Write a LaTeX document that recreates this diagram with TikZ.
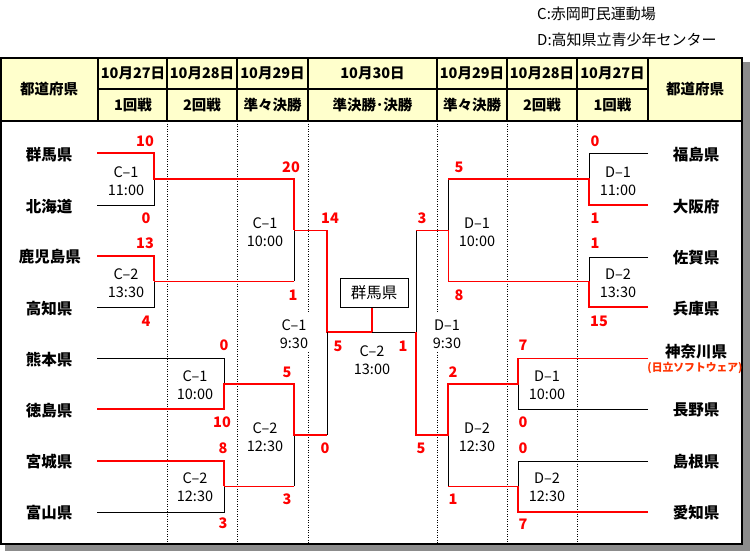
\documentclass[tikz,border=0pt]{standalone}
\usepackage{fontspec}
\setmainfont{Noto Sans CJK JP}
\definecolor{hdr}{HTML}{FFFFCC}
\definecolor{shadowgray}{HTML}{8C8C8C}
\definecolor{orangered}{HTML}{FF3300}
\begin{document}
\begin{tikzpicture}[x=1pt,y=-1pt,
  win/.style={red,line width=2.4pt},
  rl/.style={red,line width=1pt},
  bl/.style={black,line width=1pt},
  dotline/.style={black,line width=0.8pt,dash pattern=on 1pt off 1.5pt},
  frame/.style={black,line width=2pt},
  team/.style={font=\fontsize{15.5}{16}\selectfont\bfseries,inner sep=0pt},
  sc/.style={red,font=\fontsize{14.5}{15}\selectfont\bfseries,inner sep=0pt},
  mt/.style={font=\fontsize{14.5}{18}\selectfont,align=center,inner sep=0pt},
  hd/.style={font=\fontsize{14.5}{15}\selectfont\bfseries,inner sep=0pt},
  lg/.style={font=\fontsize{15}{15}\selectfont,anchor=west,inner sep=0pt},
]
\useasboundingbox (0,0) rectangle (750,551);
\fill[white] (0,0) rectangle (750,551);
% shadow
\fill[shadowgray] (743,62) rectangle (750,551);
\fill[shadowgray] (5,545) rectangle (750,551);
% header background
\fill[hdr] (1,58) rectangle (742,121);
% dotted column lines
\foreach \x in {167,237,507,577} \draw[dotline] (\x,121) -- (\x,543);
\foreach \x in {308,437} {\draw[dotline] (\x,121) -- (\x,313); \draw[dotline] (\x,352) -- (\x,543);}
% header grid
\draw[frame] (1,58) rectangle (742,544);
\draw[frame] (1,121) -- (742,121);
\draw[frame] (98,89) -- (648,89);
\foreach \x in {98,167,237,308,437,507,577,648} \draw[frame] (\x,58) -- (\x,121);

% legend
\node[lg] (lgc) at (537,14) {C:赤岡町民運動場};
\node[lg] (lgd) at (537,40) {D:高知県立青少年センター};

% headers
\node[hd] (hl) at (49,89) {都道府県};
\node[hd] (hr) at (695,89) {都道府県};
\node[hd] (d1) at (133,73) {10月27日};
\node[hd] (d2) at (202,73) {10月28日};
\node[hd] (d3) at (272.5,73) {10月29日};
\node[hd] (d4) at (372.5,73) {10月30日};
\node[hd] (d5) at (472,73) {10月29日};
\node[hd] (d6) at (542,73) {10月28日};
\node[hd] (d7) at (612.5,73) {10月27日};
\node[hd] (r1) at (133,105) {1回戦};
\node[hd] (r2) at (202,105) {2回戦};
\node[hd] (r3) at (272.5,105) {準々決勝};
\node[hd] (r4) at (372.5,105) {準決勝･決勝};
\node[hd] (r5) at (472,105) {準々決勝};
\node[hd] (r6) at (542,105) {2回戦};
\node[hd] (r7) at (612.5,105) {1回戦};

% left teams
\node[team] (L1) at (49,155) {群馬県};
\node[team] (L2) at (49,207) {北海道};
\node[team] (L3) at (50,257) {鹿児島県};
\node[team] (L4) at (49,309) {高知県};
\node[team] (L5) at (49,360) {熊本県};
\node[team] (L6) at (49,411) {徳島県};
\node[team] (L7) at (49,462) {宮城県};
\node[team] (L8) at (49,513) {富山県};
% right teams
\node[team] (R1) at (696,155) {福島県};
\node[team] (R2) at (696,207) {大阪府};
\node[team] (R3) at (696,258) {佐賀県};
\node[team] (R4) at (696,309) {兵庫県};
\node[team] (R5) at (696,352) {神奈川県};
\node[inner sep=0pt,text=orangered,font=\fontsize{10.8}{11}\selectfont\bfseries] (R5b) at (695,368) {(日立ソフトウェア)};
\node[team] (R6) at (696,410) {長野県};
\node[team] (R7) at (696,462) {島根県};
\node[team] (R8) at (696,513) {愛知県};

% ---------- left bracket lines ----------
\draw[bl] (97,205) -- (154,205) -- (154,179);
\draw[bl] (97,307) -- (154,307) -- (154,281);
\draw[bl] (294,281) -- (294,230);
\draw[rl] (154,281) -- (294,281);
\draw[win] (97,256) -- (154,256) -- (154,281);
\draw[rl] (294,230) -- (327,230);
\draw[win,line join=miter] (97,153) -- (154,153) -- (154,179) -- (294,179) -- (294,230);
\draw[win,line join=miter] (327,230) -- (327,332) -- (372,332) -- (372,307);

\draw[bl] (97,358) -- (224,358) -- (224,384);
\draw[bl] (97,512) -- (224,512) -- (224,486);
\draw[bl] (294,486) -- (294,435);
\draw[bl] (327,435) -- (327,332);
\draw[rl] (224,486) -- (294,486);
\draw[win,line join=miter] (97,461) -- (224,461) -- (224,486);
\draw[win,line join=miter] (97,409) -- (224,409) -- (224,384) -- (294,384) -- (294,435) -- (327,435);

% ---------- final ----------
\draw[bl] (372,332) -- (416,332) -- (416,230);
\node[draw,line width=1pt,fill=white,minimum width=68pt,minimum height=29pt,inner sep=0pt,font=\fontsize{15.5}{16}\selectfont] (champ) at (374,292.5) {群馬県};

% ---------- right bracket lines ----------
\draw[bl] (648,153) -- (589,153) -- (589,179);
\draw[bl] (648,257) -- (589,257) -- (589,281);
\draw[bl] (448,179) -- (448,230);
\draw[rl] (416,230) -- (448,230) -- (448,281) -- (589,281);
\draw[win,line join=miter] (648,205) -- (589,205) -- (589,179) -- (448,179);
\draw[win,line join=miter] (648,307) -- (589,307) -- (589,281);

\draw[bl] (648,409) -- (518,409) -- (518,384);
\draw[bl] (648,461) -- (518,461) -- (518,486);
\draw[bl] (448,435) -- (448,486);
\draw[rl] (648,358) -- (518,358);
\draw[rl] (448,486) -- (518,486);
\draw[win,line join=miter] (518,358) -- (518,384) -- (448,384) -- (448,435) -- (416,435) -- (416,332);
\draw[win,line join=miter] (648,512) -- (518,512) -- (518,486);

% ---------- match labels ----------
\node[mt] (m1) at (126,181) {C–1\\11:00};
\node[mt] (m2) at (126,283) {C–2\\13:30};
\node[mt] (m3) at (265,232) {C–1\\10:00};
\node[mt] (m4) at (294,334) {C–1\\9:30};
\node[mt] (m5) at (195,385) {C–1\\10:00};
\node[mt] (m6) at (195,487) {C–2\\12:30};
\node[mt] (m7) at (265,437) {C–2\\12:30};
\node[mt] (m8) at (372,360) {C–2\\13:00};
\node[mt] (n1) at (618,181) {D–1\\11:00};
\node[mt] (n2) at (618,283) {D–2\\13:30};
\node[mt] (n3) at (477,232) {D–1\\10:00};
\node[mt] (n4) at (447,334) {D–1\\9:30};
\node[mt] (n5) at (547,385) {D–1\\10:00};
\node[mt] (n6) at (547,487) {D–2\\12:30};
\node[mt] (n7) at (477,437) {D–2\\12:30};

% ---------- scores ----------
\node[sc] (s1) at (145,141) {10};
\node[sc] (s2) at (146,218) {0};
\node[sc] (s3) at (145,243) {13};
\node[sc] (s4) at (146,321) {4};
\node[sc] (s5) at (291,167) {20};
\node[sc] (s6) at (293,295) {1};
\node[sc] (s7) at (330,218) {14};
\node[sc] (s8) at (338,346) {5};
\node[sc] (s9) at (224,345) {0};
\node[sc] (s10) at (222,422) {10};
\node[sc] (s11) at (223,448) {8};
\node[sc] (s12) at (223,523) {3};
\node[sc] (s13) at (287,372) {5};
\node[sc] (s14) at (287,499) {3};
\node[sc] (s15) at (325,448) {0};
\node[sc] (t1) at (595,141) {0};
\node[sc] (t2) at (595,218) {1};
\node[sc] (t3) at (595,243) {1};
\node[sc] (t4) at (599,321) {15};
\node[sc] (t5) at (459,167) {5};
\node[sc] (t6) at (459,295) {8};
\node[sc] (t7) at (422,218) {3};
\node[sc] (t8) at (403,346) {1};
\node[sc] (t9) at (421,448) {5};
\node[sc] (t10) at (453,372) {2};
\node[sc] (t11) at (453,499) {1};
\node[sc] (t12) at (523,345) {7};
\node[sc] (t13) at (523,422) {0};
\node[sc] (t14) at (523,448) {0};
\node[sc] (t15) at (523,524) {7};
\end{tikzpicture}
\end{document}
